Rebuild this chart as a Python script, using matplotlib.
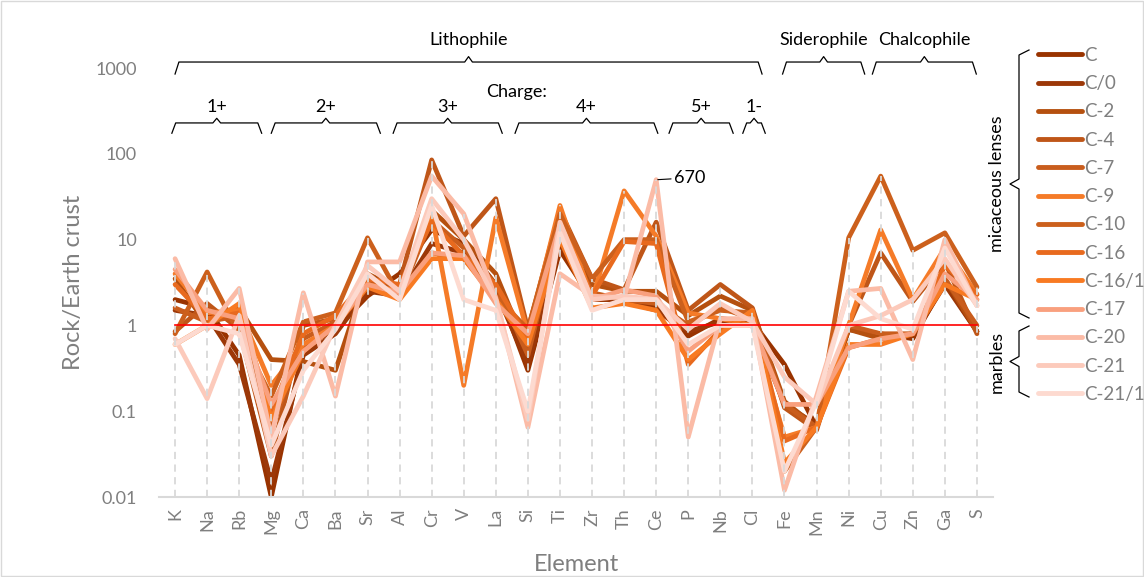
import numpy as np
import matplotlib
matplotlib.use('Agg')
import matplotlib.pyplot as plt
from matplotlib import transforms
from matplotlib.lines import Line2D
from matplotlib.patches import Rectangle

plt.rcParams['font.family'] = ['Lato', 'DejaVu Sans']

elements = ['K', 'Na', 'Rb', 'Mg', 'Ca', 'Ba', 'Sr', 'Al', 'Cr', 'V', 'La', 'Si', 'Ti',
            'Zr', 'Th', 'Ce', 'P', 'Nb', 'Cl', 'Fe', 'Mn', 'Ni', 'Cu', 'Zn', 'Ga', 'S']

# Rock/Earth crust ratios (Ce of C-20 drawn capped, true value 670)
s_c = [2.0, 1.6, 0.45, 0.010, 0.55, 0.9, 2.2, 4.0, 13, 9, 3.0, 0.30, 7.5, 2.0, 2.0, 1.6, 0.75, 1.2, 1.1, 0.35, 0.065, 0.9, 0.8, 0.7, 3.2, 0.85]
s_c0 = [1.5, 1.3, 0.35, 0.015, 0.45, 0.8, 2.5, 2.2, 9, 7, 2.5, 0.35, 9, 2.2, 1.9, 1.5, 0.85, 1.1, 1.0, 0.12, 0.07, 0.9, 0.75, 0.75, 3.0, 0.85]
s_c2 = [3.5, 1.0, 1.6, 0.40, 0.38, 0.30, 4.0, 2.6, 22, 10, 4.0, 0.50, 12, 3.0, 2.5, 2.5, 1.3, 2.2, 1.5, 0.13, 0.065, 0.9, 0.7, 0.8, 3.5, 0.85]
s_c4 = [0.85, 1.8, 0.9, 0.03, 1.0, 1.2, 3.0, 3.0, 85, 11, 30, 0.9, 22, 3.5, 2.6, 16, 1.5, 3.0, 1.6, 0.11, 0.06, 1.0, 7, 1.9, 5.5, 0.8]
s_c7 = [1.6, 1.1, 1.3, 0.06, 0.7, 1.1, 3.5, 2.2, 17, 8, 3.0, 0.45, 15, 2.4, 2.0, 1.8, 1.0, 1.6, 1.2, 0.12, 0.065, 1.0, 0.8, 0.8, 3.5, 1.0]
s_c9 = [4.0, 1.4, 1.5, 0.20, 0.6, 1.0, 3.0, 2.5, 20, 0.20, 18, 0.8, 25, 2.0, 37, 11, 1.4, 1.2, 1.0, 0.05, 0.065, 1.0, 13, 2.0, 8, 2.3]
s_c10 = [0.8, 4.2, 0.8, 0.15, 1.1, 1.4, 10.5, 2.2, 7, 6, 2.2, 0.9, 20, 3.5, 10, 10, 1.1, 1.5, 1.4, 0.02, 0.065, 10.5, 55, 7.5, 12, 2.8]
s_c16 = [3.0, 1.2, 1.4, 0.10, 0.8, 1.3, 3.5, 3.0, 16, 6.5, 3.0, 0.7, 12, 2.2, 9.5, 9, 0.35, 0.9, 1.3, 0.045, 0.065, 0.55, 0.7, 0.8, 5, 2.3]
s_c161 = [0.6, 1.0, 1.8, 0.08, 0.5, 1.0, 2.8, 2.0, 6, 6, 2.0, 0.6, 10, 1.6, 1.8, 1.5, 0.4, 0.8, 1.5, 0.025, 0.065, 0.6, 0.6, 0.8, 3.0, 2.0]
s_c17 = [4.5, 1.5, 1.2, 0.12, 0.5, 1.0, 3.0, 2.4, 7, 6.5, 1.8, 0.8, 15, 2.0, 2.6, 2.2, 0.5, 1.0, 1.0, 0.12, 0.12, 0.55, 0.7, 0.8, 4, 2.0]
s_c20 = [6.0, 0.9, 2.7, 0.05, 2.4, 0.15, 5.5, 5.5, 55, 20, 2.1, 0.065, 4, 2.2, 2.1, 50, 0.05, 1.2, 1.2, 0.012, 0.15, 2.5, 2.7, 0.4, 10, 1.7]
s_c21 = [0.7, 0.14, 1.3, 0.03, 0.15, 1.0, 5.0, 2.5, 30, 10, 2.0, 0.08, 16, 2.0, 2.2, 2.0, 0.9, 1.8, 1.1, 0.25, 0.12, 1.0, 1.3, 2.0, 6, 1.7]
s_c211 = [0.6, 1.0, 0.8, 0.04, 0.3, 0.9, 4.0, 2.0, 25, 2.0, 1.5, 0.1, 12, 1.5, 2.0, 2.0, 0.6, 1.0, 1.0, 0.02, 0.13, 2.5, 1.2, 0.9, 8, 1.7]

names = ['C', 'C/0', 'C-2', 'C-4', 'C-7', 'C-9', 'C-10', 'C-16', 'C-16/1', 'C-17', 'C-20', 'C-21', 'C-21/1']
series = [s_c, s_c0, s_c2, s_c4, s_c7, s_c9, s_c10, s_c16, s_c161, s_c17, s_c20, s_c21, s_c211]
colors = ['#993300', '#9c3808', '#b5500f', '#bf5618', '#c95d1d', '#f57b28', '#cc601c',
          '#e86a1e', '#f87a22', '#f9a07e', '#fbbba6', '#fccabb', '#fddad0']

fig = plt.figure(figsize=(11.44, 5.77), dpi=100)
ax = fig.add_axes([0.139, 0.1386, 0.729, 0.7435])
x = np.arange(len(elements))

for vals, name, col in zip(series, names, colors):
    ax.plot(x, vals, color=col, lw=3.4, solid_joinstyle='round', solid_capstyle='round', label=name, zorder=2)

# drop lines
tops = np.max(np.array(series), axis=0)
ax.vlines(x, 0.01, tops, colors='#d9d9d9', linestyles=(0, (4, 3)), lw=1.3, zorder=3)

# Earth crust reference line
ax.plot([0, len(elements) - 1], [1, 1], color='red', lw=1.2, zorder=4)

ax.set_yscale('log')
ax.set_ylim(0.01, 1000)
ax.set_xlim(-0.5, len(elements) - 0.5)
ax.set_yticks([0.01, 0.1, 1, 10, 100, 1000])
ax.set_yticklabels(['0.01', '0.1', '1', '10', '100', '1000'])
ax.minorticks_off()
ax.set_xticks(x)
ax.set_xticklabels(elements, rotation=90)
ax.tick_params(axis='both', length=0, labelsize=13, labelcolor='#7f7f7f')
ax.tick_params(axis='y', pad=16)
ax.tick_params(axis='x', pad=8)
for side in ['left', 'right', 'top']:
    ax.spines[side].set_visible(False)
ax.spines['bottom'].set_color('#d9d9d9')
ax.spines['bottom'].set_linewidth(1.5)
ax.set_ylabel('Rock/Earth crust', fontsize=17, color='#7f7f7f', labelpad=8)
ax.set_xlabel('Element', fontsize=17, color='#7f7f7f', labelpad=14)

# 670 note at Ce
ce = elements.index('Ce')
ax.annotate('670', xy=(ce + 0.05, s_c20[ce]), xytext=(ce + 0.55, s_c20[ce] * 1.05),
            fontsize=13, va='center', ha='left',
            arrowprops=dict(arrowstyle='-', color='black', lw=0.8, shrinkA=0, shrinkB=0))

# braces above the plot
trans = transforms.blended_transform_factory(ax.transData, ax.transAxes)


def hbrace(x0, x1, y, h, label, ty):
    xm = (x0 + x1) / 2
    d = 0.12
    px = [x0, x0 + d, xm - d, xm, xm + d, x1 - d, x1]
    py = [y - h, y, y, y + h * 0.45, y, y, y - h]
    ax.plot(px, py, color='black', lw=0.9, transform=trans, clip_on=False)
    ax.text(xm, ty, label, fontsize=13, ha='center', va='center', transform=trans)


hbrace(0.0, 18.3, 1.014, 0.028, 'Lithophile', 1.066)
hbrace(18.94, 21.5, 1.014, 0.028, 'Siderophile', 1.066)
hbrace(21.74, 24.98, 1.014, 0.028, 'Chalcophile', 1.066)
hbrace(-0.1, 2.7, 0.872, 0.024, '1+', 0.91)
hbrace(3.0, 6.4, 0.872, 0.024, '2+', 0.91)
hbrace(6.8, 10.2, 0.872, 0.024, '3+', 0.91)
hbrace(10.6, 15.05, 0.872, 0.024, '4+', 0.91)
hbrace(15.4, 17.4, 0.872, 0.024, '5+', 0.91)
hbrace(17.7, 18.4, 0.872, 0.024, '1-', 0.91)
ax.text(10.65, 0.945, 'Charge:', fontsize=13, ha='center', va='center', transform=trans)

# legend
leg = fig.legend(loc='upper left', bbox_to_anchor=(0.893, 0.948), frameon=False,
                 fontsize=13.5, labelcolor='#7f7f7f', handlelength=2.3, handletextpad=0.15,
                 labelspacing=0.6)
for line in leg.get_lines():
    line.set_linewidth(3.5)


def vbrace(y0, y1, xb, w, label):
    # y in figure pixels from top, x in figure pixels
    W, H = 1144.0, 577.0
    ym = (y0 + y1) / 2
    d = 5
    py = [y0, y0 + d, ym - d, ym, ym + d, y1 - d, y1]
    px = [xb + w, xb, xb, xb - w * 0.9, xb, xb, xb + w]
    fig.add_artist(Line2D(np.array(px) / W, 1 - np.array(py) / H, color='black', lw=0.9,
                          transform=fig.transFigure))
    fig.text((xb - w - 12) / W, 1 - ym / H, label, rotation=90, fontsize=13,
             ha='center', va='center')


vbrace(50, 318, 1019, 10, 'micaceous lenses')
vbrace(326, 397, 1019, 10, 'marbles')

fig.patches.append(Rectangle((0.001, 0.001), 0.998, 0.997, transform=fig.transFigure,
                             fill=False, edgecolor='#d9d9d9', lw=1))

fig.savefig('out.png', dpi=100)
